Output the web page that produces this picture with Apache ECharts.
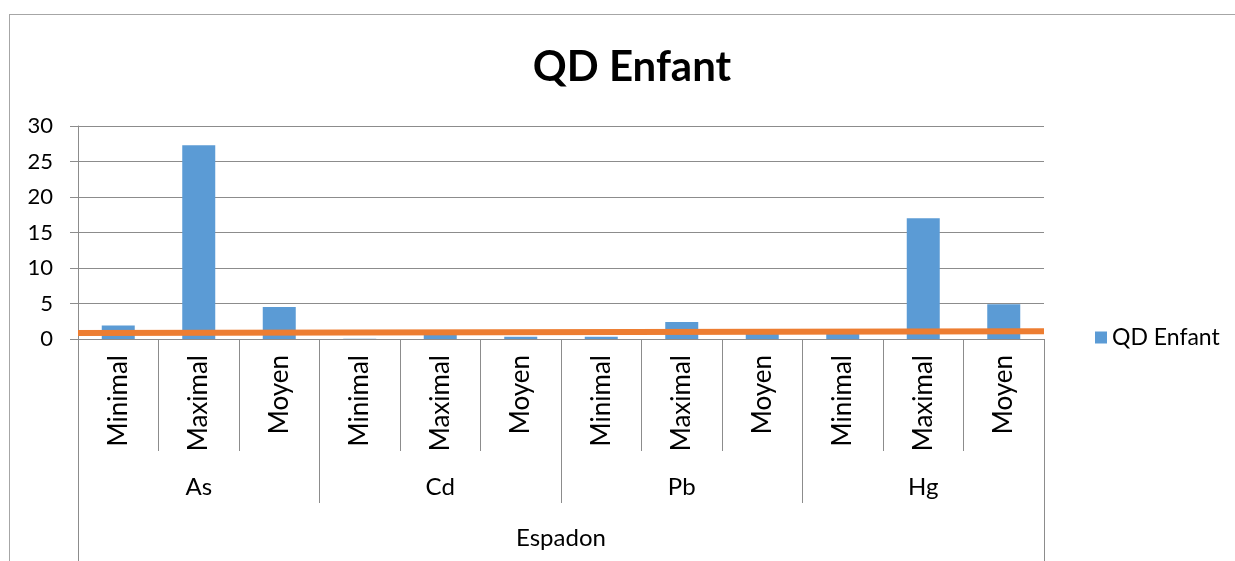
<!DOCTYPE html>
<html>
<head>
<meta charset="utf-8">
<script src="https://cdn.jsdelivr.net/npm/echarts@6/dist/echarts.min.js"></script>
<style>
  html, body { margin: 0; padding: 0; background: #fff; overflow: hidden; }
  #frame {
    position: absolute; left: 9px; top: 14px; width: 1400px; height: 700px;
    border: 1px solid #a6a6a6;
  }
  #chart { position: absolute; left: 0; top: 0; width: 1235px; height: 561px; }
</style>
</head>
<body>
<div id="frame"></div>
<div id="chart"></div>
<script>
// categories (3 levels)
var statLabels = ['Minimal', 'Maximal', 'Moyen', 'Minimal', 'Maximal', 'Moyen',
                  'Minimal', 'Maximal', 'Moyen', 'Minimal', 'Maximal', 'Moyen'];
var metalLabels = ['As', 'Cd', 'Pb', 'Hg'];
var speciesLabels = ['Espadon'];

// series values
var qdEnfant = [1.9, 27.3, 4.5, 0.05, 0.8, 0.3, 0.3, 2.4, 0.9, 1.0, 17.0, 4.9];

// orange reference line (start / end of the plot)
var lineX = [0, 12];
var lineY = [0.85, 1.1];

// y ticks
var yTicks = [0, 5, 10, 15, 20, 25, 30];

var gridColor = '#8c8c8c';
var fontName = 'Lato';

var chart = echarts.init(document.getElementById('chart'));

var option = {
    animation: false,
    title: {
        text: 'QD Enfant',
        left: 627,
        textAlign: 'center',
        top: 41,
        textStyle: { fontFamily: fontName, fontWeight: 'bold', fontSize: 42, color: '#000' }
    },
    legend: {
        data: ['QD Enfant'],
        left: 1090,
        top: 321,
        icon: 'rect',
        itemWidth: 12,
        itemHeight: 12,
        itemGap: 6,
        textStyle: { fontFamily: fontName, fontSize: 23, color: '#000' }
    },
    grid: { left: 78, right: 191, top: 126, bottom: 222 },
    xAxis: [
        {
            type: 'category',
            data: statLabels,
            position: 'bottom',
            axisLine: { show: true, lineStyle: { color: gridColor, width: 1 } },
            axisTick: { show: true, interval: 0, length: 112, lineStyle: { color: gridColor } },
            axisLabel: {
                interval: 0, rotate: 90, margin: 16,
                fontFamily: fontName, fontSize: 26, color: '#000'
            }
        },
        {
            type: 'category',
            data: metalLabels,
            position: 'bottom',
            axisLine: { show: false },
            axisTick: { show: true, interval: 0, length: 164, lineStyle: { color: gridColor } },
            axisLabel: { interval: 0, margin: 136, fontFamily: fontName, fontSize: 24, color: '#000' }
        },
        {
            type: 'category',
            data: speciesLabels,
            position: 'bottom',
            axisLine: { show: false },
            axisTick: { show: true, interval: 0, length: 240, lineStyle: { color: gridColor } },
            axisLabel: { interval: 0, margin: 187, fontFamily: fontName, fontSize: 24, color: '#000' }
        },
        {
            type: 'value',
            min: 0,
            max: 12,
            show: false
        }
    ],
    yAxis: {
        type: 'value',
        min: yTicks[0],
        max: yTicks[yTicks.length - 1],
        interval: 5,
        axisLine: { show: true, lineStyle: { color: gridColor } },
        axisTick: { show: true, length: 8, lineStyle: { color: gridColor } },
        splitLine: { show: true, lineStyle: { color: gridColor, width: 1 } },
        axisLabel: { margin: 25, fontFamily: fontName, fontSize: 22, color: '#000' }
    },
    series: [
        {
            name: 'QD Enfant',
            type: 'bar',
            xAxisIndex: 0,
            yAxisIndex: 0,
            barWidth: 33,
            itemStyle: { color: '#5b9bd5' },
            data: qdEnfant
        },
        {
            name: 'Seuil',
            type: 'line',
            xAxisIndex: 3,
            yAxisIndex: 0,
            symbol: 'none',
            lineStyle: { color: '#ed7d31', width: 6 },
            data: lineX.map(function (x, i) { return [x, lineY[i]]; }),
            z: 5
        }
    ]
};

chart.setOption(option);
</script>
</body>
</html>
